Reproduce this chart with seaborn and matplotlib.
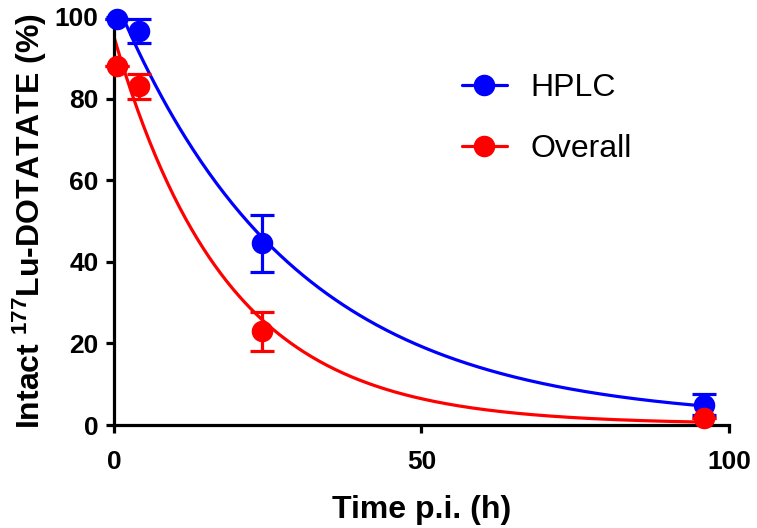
import numpy as np
import seaborn as sns
import matplotlib.pyplot as plt
from matplotlib.lines import Line2D

# measured points (time p.i. in h, % intact, SD)
time_h = [0.5, 4, 24, 96]
hplc_mean = [99.5, 96.5, 44.5, 5.0]
hplc_sd = [0.0, 3.0, 7.0, 2.6]
overall_mean = [88.0, 83.0, 23.0, 1.7]
overall_sd = [0.0, 3.0, 4.8, 0.0]

sns.set_style('ticks')
plt.rcParams['font.family'] = ['Liberation Sans', 'DejaVu Sans']
plt.rcParams['mathtext.fontset'] = 'custom'
plt.rcParams['mathtext.rm'] = 'Liberation Sans:bold'
plt.rcParams['mathtext.bf'] = 'Liberation Sans:bold'
plt.rcParams['mathtext.default'] = 'bf'
for key in ['text.color', 'axes.labelcolor', 'xtick.color', 'ytick.color',
            'axes.edgecolor']:
    plt.rcParams[key] = 'black'


def fit_decay(t, y):
    # one-phase decay with plateau: y = (y0-p)*exp(-k t) + p
    t = np.asarray(t, float)
    y = np.asarray(y, float)
    best = None
    for k in np.linspace(0.005, 0.3, 3000):
        A = np.column_stack([np.exp(-k * t), np.ones_like(t)])
        coef, *_ = np.linalg.lstsq(A, y, rcond=None)
        err = ((A @ coef - y) ** 2).sum()
        if best is None or err < best[0]:
            best = (err, coef, k)
    return best[1], best[2]


fig = plt.figure(figsize=(7.57, 5.28), dpi=100)
ax = fig.add_axes([0.1506, 0.195, 0.8124, 0.773])

tt = np.linspace(0, 96, 300)
series = [('HPLC', hplc_mean, hplc_sd, '#0000ff'),
          ('Overall', overall_mean, overall_sd, '#ff0000')]
handles = []
for name, mean, sd, col in series:
    (a, p), k = fit_decay(time_h, mean)
    sns.lineplot(x=tt, y=a * np.exp(-k * tt) + p, color=col, lw=2.3, ax=ax)
    ax.errorbar(time_h, mean, yerr=sd, fmt='o', color=col, ms=14.5,
                capsize=8.5, capthick=2.3, elinewidth=2.3, clip_on=False,
                zorder=5)
    handles.append(Line2D([], [], color=col, lw=2.3, marker='o', ms=14.5,
                          label=name))

ax.set_xlim(0, 100)
ax.set_ylim(0, 100)
ax.set_xticks([0, 50, 100])
ax.set_yticks([0, 20, 40, 60, 80, 100])
for s in ['top', 'right']:
    ax.spines[s].set_visible(False)
for s in ['left', 'bottom']:
    ax.spines[s].set_linewidth(2.3)
ax.tick_params(width=2.3, length=6, labelsize=19)
ax.tick_params(axis='x', pad=12)
ax.tick_params(axis='y', pad=5)
for lab in ax.get_xticklabels() + ax.get_yticklabels():
    lab.set_fontweight('bold')

ax.set_xlabel('Time p.i. (h)', fontsize=23, fontweight='bold', labelpad=15)
ax.set_ylabel(r'Intact $^{177}$Lu-DOTATATE (%)', fontsize=23,
              fontweight='bold', labelpad=4)

ax.legend(handles=handles, loc='upper left', bbox_to_anchor=(0.566, 0.863),
          frameon=False, fontsize=23, handlelength=1.4, labelspacing=0.97,
          handletextpad=0.75, borderpad=0, borderaxespad=0)

fig.savefig('out.png', dpi=100)
